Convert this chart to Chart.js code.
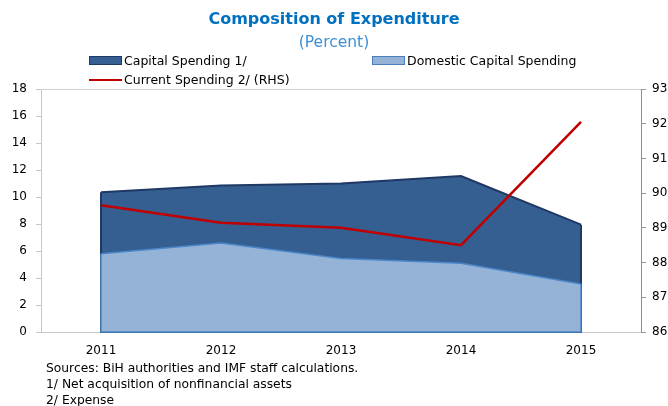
<!DOCTYPE html>
<html>
<head>
<meta charset="utf-8">
<script src="https://cdn.jsdelivr.net/npm/chart.js@4.4.1/dist/chart.umd.min.js"></script>
<style>
  body { margin: 0; background: #fff; }
  .wrap { position: relative; width: 668px; height: 406px; font-family: "DejaVu Sans", Verdana, sans-serif; }
  canvas { position: absolute; left: 0; top: 0; }
  .title { position: absolute; top: 9px; left: 0; width: 668px; text-align: center; font-weight: bold; font-size: 16px; color: #0070c0; }
  .subtitle { position: absolute; top: 33px; left: 0; width: 668px; text-align: center; font-size: 15.5px; color: #3d8fd6; }
  .leg { position: absolute; font-size: 12.5px; color: #000; line-height: 16px; white-space: nowrap; }
  .box { position: absolute; width: 31px; height: 7px; }
  .redline { position: absolute; width: 33px; height: 2px; background: #c00000; }
  .note { position: absolute; left: 46px; font-size: 12.3px; color: #000; white-space: nowrap; line-height: 15px; }
</style>
</head>
<body>
<div class="wrap">
  <canvas id="chart" width="668" height="406"></canvas>
  <div class="title">Composition of Expenditure</div>
  <div class="subtitle">(Percent)</div>

  <div class="box" style="left:89px;top:56px;background:#355f91;border:1px solid #1f3864;"></div>
  <div class="leg" style="left:124px;top:53px;">Capital Spending 1/</div>
  <div class="box" style="left:372px;top:56px;background:#95b3d7;border:1px solid #4a7ebb;"></div>
  <div class="leg" style="left:407px;top:53px;">Domestic Capital Spending</div>
  <div class="redline" style="left:89px;top:79px;"></div>
  <div class="leg" style="left:124px;top:72px;">Current Spending 2/ (RHS)</div>

  <div class="note" style="top:361px;">Sources: BiH authorities and IMF staff calculations.</div>
  <div class="note" style="top:377px;">1/ Net acquisition of nonfinancial assets</div>
  <div class="note" style="top:393px;">2/ Expense</div>
</div>
<script>
const years = ["2011", "2012", "2013", "2014", "2015"];
const capital_spending = [10.35, 10.85, 11.0, 11.55, 7.95];
const domestic_capital = [5.8, 6.6, 5.45, 5.1, 3.55];
const current_spending = [89.65, 89.15, 89.0, 88.5, 92.05];

// closes the area outline: vertical edges and base, like the original
const areaEdges = {
  id: "areaEdges",
  afterDatasetDraw(chart, args) {
    const ds = chart.data.datasets[args.index];
    if (!ds.fill) return;
    const pts = args.meta.data;
    const base = chart.scales.y.getPixelForValue(0);
    const first = pts[0], last = pts[pts.length - 1];
    const ctx = chart.ctx;
    ctx.save();
    ctx.strokeStyle = ds.borderColor;
    ctx.lineWidth = ds.borderWidth;
    ctx.beginPath();
    ctx.moveTo(first.x, first.y);
    ctx.lineTo(first.x, base);
    ctx.lineTo(last.x, base);
    ctx.lineTo(last.x, last.y);
    ctx.stroke();
    ctx.restore();
  },
};

const topFrame = {
  id: "topFrame",
  afterDraw(chart) {
    const a = chart.chartArea;
    const ctx = chart.ctx;
    ctx.save();
    ctx.strokeStyle = "#d0d0d0";
    ctx.lineWidth = 1;
    ctx.beginPath();
    ctx.moveTo(a.left, a.top + 0.5);
    ctx.lineTo(a.right, a.top + 0.5);
    ctx.stroke();
    ctx.restore();
  },
};

const tickFont = { family: "DejaVu Sans", size: 12 };

new Chart(document.getElementById("chart"), {
  type: "line",
  data: {
    labels: years,
    datasets: [
      {
        label: "Current Spending 2/ (RHS)",
        data: current_spending,
        yAxisID: "y1",
        borderColor: "#c00000",
        borderWidth: 2.5,
        pointRadius: 0,
        fill: false,
        tension: 0,
        order: 0,
      },
      {
        label: "Domestic Capital Spending",
        data: domestic_capital,
        yAxisID: "y",
        backgroundColor: "#95b3d7",
        borderColor: "#4a86c8",
        borderWidth: 1.5,
        pointRadius: 0,
        fill: "origin",
        tension: 0,
        order: 1,
      },
      {
        label: "Capital Spending 1/",
        data: capital_spending,
        yAxisID: "y",
        backgroundColor: "#355f91",
        borderColor: "#1f3864",
        borderWidth: 2,
        pointRadius: 0,
        fill: "origin",
        tension: 0,
        order: 2,
      },
    ],
  },
  options: {
    responsive: false,
    animation: false,
    layout: { padding: { top: 89, left: 0, right: 0, bottom: 0 } },
    plugins: {
      legend: { display: false },
      tooltip: { enabled: false },
    },
    scales: {
      x: {
        offset: true,
        grid: { display: false },
        border: { color: "#c8c8c8" },
        ticks: { color: "#000", font: tickFont, padding: 4 },
        afterFit: (s) => { s.height = 74; },
      },
      y: {
        position: "left",
        min: 0,
        max: 18,
        ticks: { stepSize: 2, color: "#000", font: tickFont, padding: 9 },
        grid: { drawOnChartArea: false, tickLength: 5, color: "#c8c8c8" },
        border: { color: "#c8c8c8" },
        afterFit: (s) => { s.width = 41; },
      },
      y1: {
        position: "right",
        min: 86,
        max: 93,
        ticks: { stepSize: 1, color: "#000", font: tickFont, padding: 6 },
        grid: { drawOnChartArea: false, tickLength: 5, color: "#999" },
        border: { color: "#8c8c8c" },
        afterFit: (s) => { s.width = 27; },
      },
    },
  },
  plugins: [areaEdges, topFrame],
});
</script>
</body>
</html>
